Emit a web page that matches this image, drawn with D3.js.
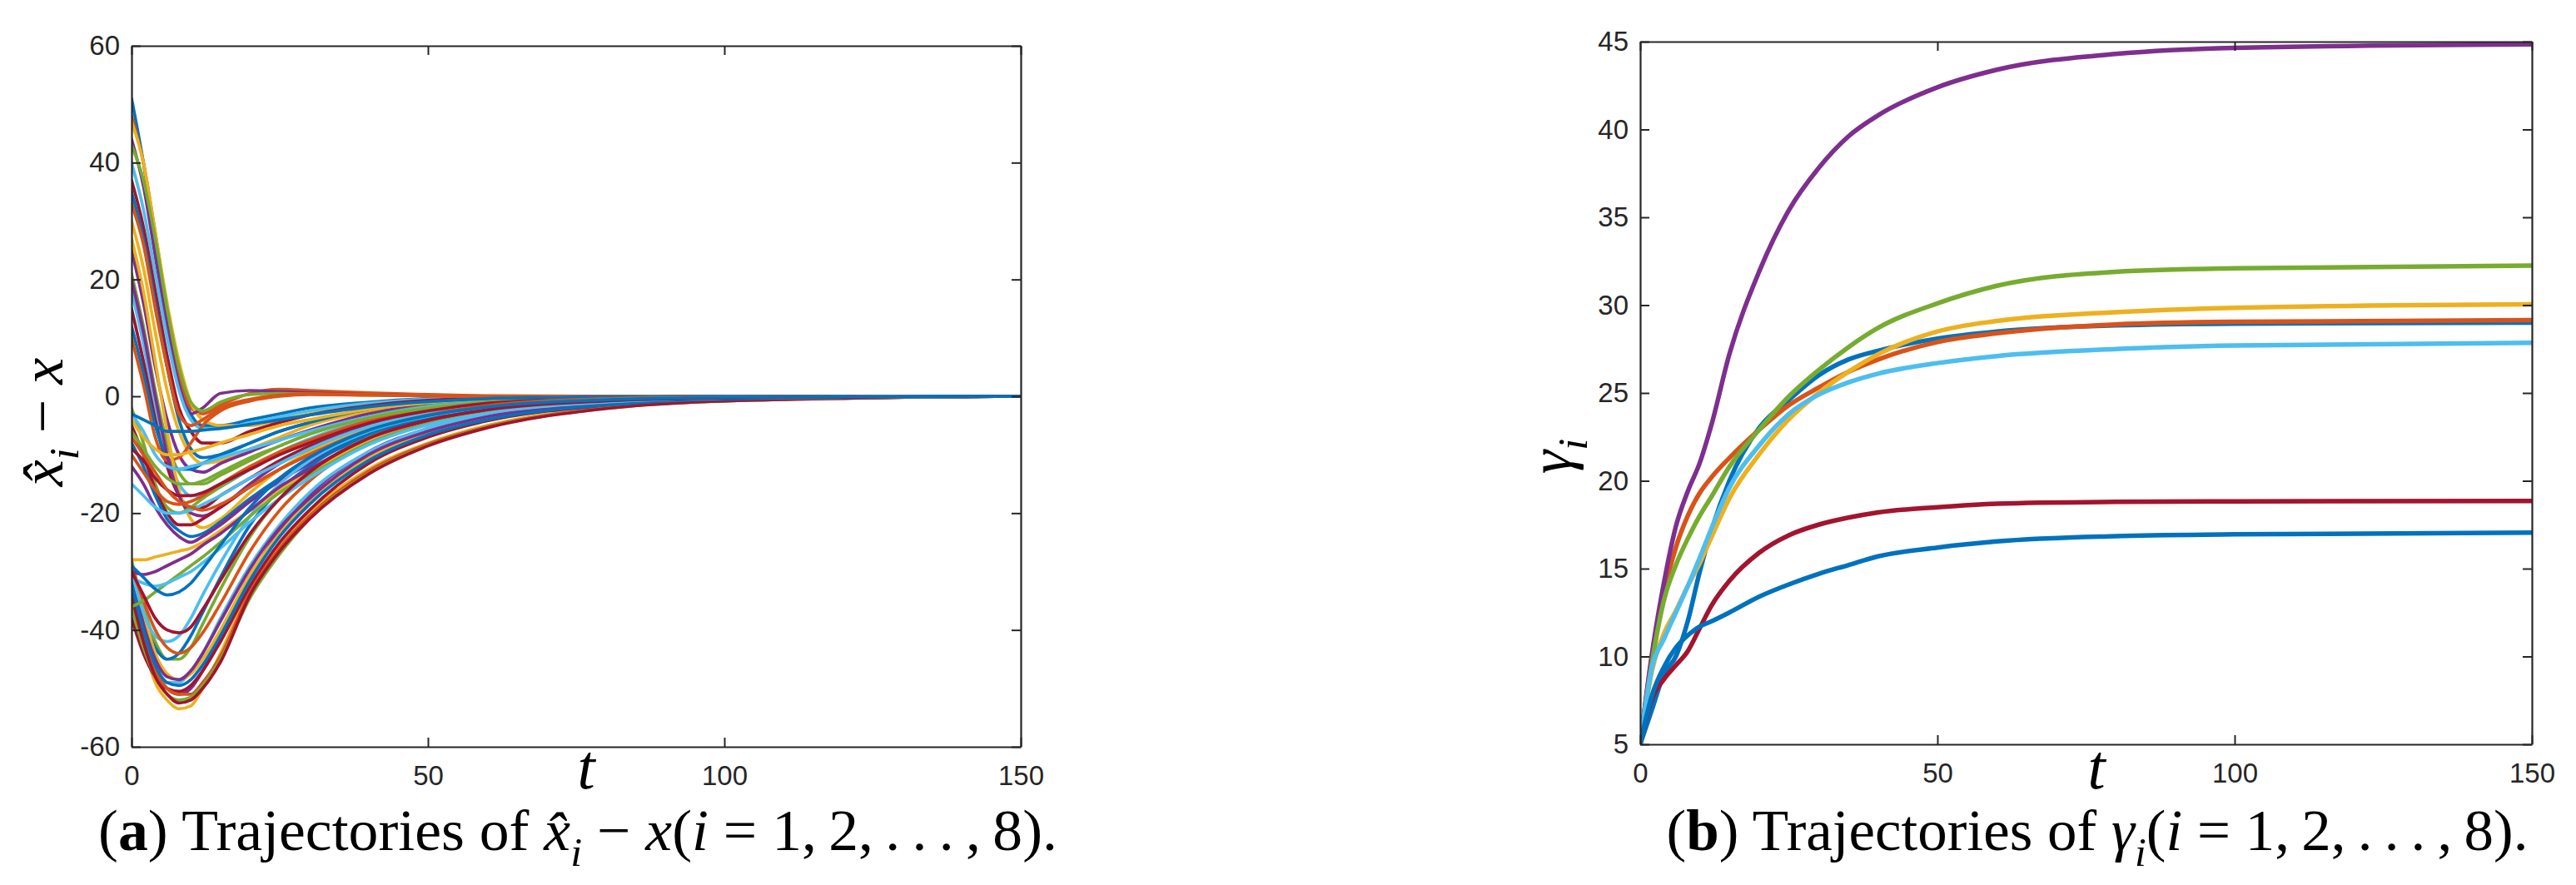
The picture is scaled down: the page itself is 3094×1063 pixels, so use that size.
<!DOCTYPE html>
<html>
<head>
<meta charset="utf-8">
<script src="https://cdn.jsdelivr.net/npm/d3@7"></script>
<style>
  html, body { margin: 0; padding: 0; background: #fff; }
  svg { display: block; }
</style>
</head>
<body>
<script>
// MATLAB default line colour order
var colors = ["#0072BD", "#D95319", "#EDB120", "#7E2F8E", "#77AC30", "#4DBEEE", "#A2142F"];

var tTicks = [0, 50, 100, 150];

// (a) estimation errors  x^_i - x
var errTimes = [0, 2, 4, 6, 8, 10, 12, 15, 20, 25, 30, 40, 50, 60, 80, 100, 150];
var errTicks = [-60, -40, -20, 0, 20, 40, 60];

// start high, fall through zero
var errHigh = [
    [51, 40, 27, 14, 3, -3, -5, -5, -4, -3, -2, -1, -0.4, -0.2, 0, 0, 0],
    [48, 40, 28, 15, 4, -2, -3, -1.5, 0.5, 1.2, 1.0, 0.6, 0.3, 0.1, 0, 0, 0],
    [47, 40, 28, 16, 6, -1, -4, -5, -5, -4, -3, -1.5, -0.6, -0.2, 0, 0, 0],
    [44, 36, 24, 12, 2, -3, -2, 0.5, 1.0, 0.8, 0.6, 0.3, 0.1, 0, 0, 0, 0],
    [43, 37, 27, 15, 5, -1, -2.5, -1, 0.3, 0.5, 0.4, 0.2, 0.1, 0, 0, 0, 0],
    [40, 32, 21, 10, 1, -4, -5.5, -5.5, -4.5, -3.5, -2.5, -1.2, -0.5, -0.2, 0, 0, 0],
    [37, 29, 18, 7, -2, -6, -8, -8, -6, -4.5, -3.2, -1.6, -0.7, -0.3, 0, 0, 0],
    [35, 27, 16, 5, -4, -9, -10.5, -10, -8, -6, -4.5, -2.2, -1, -0.4, 0, 0, 0],
    [33, 26, 15, 5, -3, -5, -4, -2, -0.5, 0.2, 0.4, 0.3, 0.1, 0, 0, 0, 0],
    [30, 22, 11, 1, -6, -10, -11.5, -11, -9, -7, -5, -2.6, -1.2, -0.5, 0, 0, 0],
    [25, 16, 5, -4, -10, -12.5, -13, -11.5, -9.5, -7.5, -5.8, -3, -1.4, -0.6, -0.1, 0, 0],
    [21, 12, 1, -8, -13, -15, -15, -13.5, -11, -8.5, -6.5, -3.5, -1.7, -0.8, -0.1, 0, 0],
    [18, 9, -2, -10, -15, -17, -17, -15.5, -12.5, -9.5, -7.3, -3.9, -2, -0.9, -0.2, 0, 0],
    [15, 6, -4, -12, -17, -19, -19, -17, -14, -11, -8.5, -4.5, -2.3, -1.1, -0.2, 0, 0],
    [12, 4, -5, -10.5, -12.5, -12.5, -11.5, -10, -8, -6, -4.5, -2.2, -1.1, -0.5, 0, 0, 0],
    [10, 2, -7, -11, -10.5, -8, -5, -2.5, -0.8, 0, 0.3, 0.2, 0.1, 0, 0, 0, 0],
    [27, 18, 6, -6, -16, -21, -22.5, -21, -16.5, -12.5, -9.5, -5.3, -2.8, -1.4, -0.3, -0.1, 0],
    [20, 11, 0, -10, -17, -20, -20.5, -19, -15, -11.5, -9, -5, -2.7, -1.3, -0.3, -0.1, 0]
];

// start slightly below zero
var errSmall = [
    [-2, -8, -15, -19, -20, -19, -17.5, -15.5, -12.5, -10, -8, -4.5, -2.4, -1.2, -0.3, -0.1, 0],
    [-3, -6, -10, -12, -12.5, -12, -11.5, -10.5, -9, -7.5, -6, -3.5, -1.8, -0.9, -0.2, 0, 0],
    [-5, -10, -16, -20, -22, -22, -21, -19, -15.5, -12.5, -10, -5.8, -3.2, -1.6, -0.4, -0.1, 0],
    [-8, -12, -17, -21, -23, -24, -23.5, -21.5, -17.5, -14, -11, -6.5, -3.5, -1.8, -0.5, -0.1, 0],
    [-10, -13, -16, -18, -18.5, -18, -17, -15, -12, -9.5, -7.5, -4.2, -2.2, -1.1, -0.3, 0, 0],
    [-4, -7, -9, -10, -10, -9.5, -9, -8, -6.5, -5, -4, -2.2, -1.1, -0.5, -0.1, 0, 0],
    [-12, -15, -19, -22, -24, -25, -24, -22, -18, -14.5, -11.5, -6.8, -3.7, -1.9, -0.5, -0.1, 0],
    [-6, -9, -12, -14, -15, -15, -14.5, -13, -10.5, -8.5, -6.5, -3.7, -2, -1, -0.2, 0, 0],
    [-15, -17, -19, -20, -20, -19.5, -18.5, -17, -14, -11.5, -9, -5.2, -2.8, -1.4, -0.3, -0.1, 0],
    [-9, -11, -14, -16, -17, -17, -16.5, -15, -12.5, -10, -8, -4.6, -2.5, -1.2, -0.3, 0, 0],
    [-3, -4, -5, -6, -6, -6, -5.8, -5.5, -4.8, -4, -3.2, -1.8, -0.9, -0.4, -0.1, 0, 0],
    [-7, -10, -13, -16, -18, -19, -19.5, -18.5, -15.5, -12.5, -10, -5.8, -3.2, -1.6, -0.4, -0.1, 0]
];

// start near -30, deep dip
var errDeep = [
    [-32, -42, -49, -52, -53.5, -53, -50, -44, -33, -25.5, -20, -12.5, -8, -5, -1.9, -0.7, 0],
    [-30, -40, -47, -50, -51, -50, -47, -41, -31, -23, -17, -9.5, -5.5, -3.2, -1.1, -0.4, 0],
    [-28, -36, -42, -45, -45, -43, -39, -33, -24, -17.5, -13, -7, -4, -2.3, -0.8, -0.3, 0],
    [-35, -42, -47, -49, -49, -47, -44, -38, -29, -22, -16.5, -9.5, -5.5, -3.2, -1.1, -0.4, 0],
    [-38, -44, -48, -50, -50.5, -49.5, -47, -42, -32.5, -25, -19.5, -11.5, -7, -4.2, -1.6, -0.6, 0],
    [-30, -38, -43, -45, -44, -41, -37, -31, -22, -16, -12, -6.5, -3.7, -2.1, -0.7, -0.2, 0],
    [-33, -41, -47, -50, -51, -51, -49, -44.5, -33.5, -26, -20.5, -12.8, -8.2, -5.2, -2, -0.8, 0],
    [-29, -37, -44, -47.5, -48.5, -47.5, -45, -40, -30.5, -23.5, -18, -10.5, -6.2, -3.7, -1.3, -0.5, 0],
    [-31, -39, -45, -48, -48.5, -47, -44, -38.5, -29.5, -22.5, -17.5, -10, -6, -3.5, -1.2, -0.4, 0],
    [-36, -43, -48, -51, -52, -51.5, -49.5, -45, -34.5, -27, -21, -13.2, -8.4, -5.3, -2.1, -0.8, 0],
    [-30, -37, -41, -42, -41, -38, -34, -28.5, -20.5, -15, -11, -6, -3.4, -1.9, -0.6, -0.2, 0],
    [-34, -42, -48, -51, -52.5, -52, -50, -45.5, -34, -26.5, -21, -13.3, -8.5, -5.4, -2.1, -0.8, 0],
    [-32, -40, -46, -49, -49.5, -48.5, -46, -41, -31.5, -24, -18.5, -11, -6.6, -4, -1.5, -0.5, 0],
    [-29, -35, -40, -43, -44, -43, -40.5, -35.5, -26.5, -19.5, -14.5, -8, -4.6, -2.6, -0.9, -0.3, 0]
];

// start near -30, no dip
var errFlat = [
    [-28, -28, -27.5, -27, -26.5, -26, -25, -23, -19.5, -16, -13, -7.8, -4.6, -2.7, -0.9, -0.3, 0],
    [-30, -30.5, -30, -29, -28, -27, -25.5, -23.5, -19.5, -15.5, -12.5, -7.2, -4.2, -2.4, -0.8, -0.3, 0],
    [-36, -35, -33.5, -32, -30.5, -29, -27.5, -25, -20.5, -16.5, -13.5, -8, -4.7, -2.8, -0.9, -0.3, 0],
    [-31, -32, -32.5, -32, -31, -30, -28.5, -26, -21.5, -17.5, -14, -8.3, -4.9, -2.9, -1, -0.3, 0],
    [-30, -34, -38, -40, -40.5, -39.5, -36.5, -31.5, -23.5, -17.5, -13, -7.2, -4.1, -2.3, -0.8, -0.3, 0],
    [-29, -31, -33, -34, -33.5, -32, -29.5, -25.5, -19, -14, -10.5, -5.8, -3.3, -1.8, -0.6, -0.2, 0]
];

// (b) adaptive gains gamma_i
var gammaTimes = [0, 2, 4, 6, 8, 10, 12, 15, 20, 25, 30, 35, 40, 50, 60, 80, 100, 150];
var gammaTicks = [5, 10, 15, 20, 25, 30, 35, 40, 45];

var gamma1 = [5, 7.0, 9.0, 10.0, 12.0, 14.8, 17.2, 20.0, 23.0, 24.6, 26.0, 26.9, 27.4, 28.1, 28.5, 28.85, 28.95, 29.0];
var gamma2 = [5, 10.0, 13.6, 16.2, 18.0, 19.3, 20.2, 21.3, 22.9, 24.3, 25.3, 26.2, 26.9, 27.9, 28.4, 28.9, 29.05, 29.15];
var gamma3 = [5, 9.2, 11.3, 12.6, 14.0, 15.3, 16.8, 19.0, 21.5, 23.5, 25.0, 26.2, 27.2, 28.5, 29.1, 29.6, 29.85, 30.05];
var gamma4 = [5, 10.2, 14.2, 17.4, 19.4, 21.0, 23.2, 27.2, 31.9, 35.4, 37.8, 39.6, 40.8, 42.4, 43.4, 44.3, 44.65, 44.85];
var gamma5 = [5, 9.7, 13.2, 15.2, 16.7, 18.0, 19.1, 20.8, 22.9, 24.8, 26.3, 27.6, 28.7, 30.1, 31.1, 31.9, 32.1, 32.25];
var gamma6 = [5, 9.4, 11.0, 12.5, 14.0, 15.6, 17.3, 19.6, 22.0, 23.8, 24.9, 25.6, 26.1, 26.7, 27.1, 27.5, 27.7, 27.85];
var gamma7 = [5, 7.6, 8.7, 9.5, 10.3, 11.6, 12.9, 14.3, 15.9, 16.9, 17.5, 17.9, 18.2, 18.5, 18.7, 18.8, 18.83, 18.85];
var gamma8 = [5, 7.8, 9.4, 10.5, 11.2, 11.7, 12.0, 12.5, 13.4, 14.1, 14.7, 15.2, 15.7, 16.2, 16.55, 16.85, 16.95, 17.05];

var W = 3094, H = 1063;
var axisColor = "#262626";
var sans = "'Liberation Sans', Arial, Helvetica, sans-serif";
var serif = "'Liberation Serif', 'Times New Roman', serif";

var svg = d3.select("body").append("svg")
    .attr("width", W)
    .attr("height", H);

function drawPanel(spec) {
    var x = d3.scaleLinear().domain([0, 150]).range([spec.left, spec.right]);
    var y = d3.scaleLinear().domain(spec.yDomain).range([spec.bottom, spec.top]);
    var g = svg.append("g");

    g.append("clipPath").attr("id", spec.id + "-clip")
        .append("rect")
        .attr("x", spec.left).attr("y", spec.top)
        .attr("width", spec.right - spec.left)
        .attr("height", spec.bottom - spec.top);

    var line = d3.line()
        .x(function (d) { return x(d[0]); })
        .y(function (d) { return y(d[1]); })
        .curve(d3.curveMonotoneX);

    g.append("g")
        .attr("clip-path", "url(#" + spec.id + "-clip)")
        .selectAll("path")
        .data(spec.series)
        .enter()
        .append("path")
        .attr("d", function (s) {
            return line(spec.times.map(function (t, i) { return [t, s[i]]; }));
        })
        .attr("fill", "none")
        .attr("stroke", function (s, i) { return colors[i % colors.length]; })
        .attr("stroke-width", spec.lineWidth)
        .attr("stroke-linejoin", "round")
        .attr("stroke-linecap", "round");

    var fmt = function (d) { return String(d); };
    var none = function () { return ""; };

    var axes = [
        { axis: d3.axisBottom(x).tickValues(tTicks).tickFormat(fmt).tickPadding(23), at: "translate(0," + spec.bottom + ")" },
        { axis: d3.axisTop(x).tickValues(tTicks).tickFormat(none), at: "translate(0," + spec.top + ")" },
        { axis: d3.axisLeft(y).tickValues(spec.yTicks).tickFormat(fmt).tickPadding(14), at: "translate(" + spec.left + ",0)" },
        { axis: d3.axisRight(y).tickValues(spec.yTicks).tickFormat(none), at: "translate(" + spec.right + ",0)" }
    ];

    axes.forEach(function (a) {
        var ag = g.append("g")
            .attr("transform", a.at)
            .call(a.axis.tickSizeInner(-11).tickSizeOuter(0));
        ag.attr("font-family", sans).attr("font-size", 33);
        ag.select(".domain").attr("stroke", axisColor).attr("stroke-width", 2.2);
        ag.selectAll(".tick line").attr("stroke", axisColor).attr("stroke-width", 2);
        ag.selectAll(".tick text").attr("fill", axisColor);
    });

    return { x: x, y: y };
}

// writes a run of plain / bold / italic / subscript pieces into a text node
function writeParts(text, parts, fs) {
    var shift = 0;
    text.selectAll("tspan").remove();
    text.attr("font-size", fs);
    parts.forEach(function (p) {
        var ts = text.append("tspan").text(p[0]);
        var want = p[1] === "sub" ? fs * 0.27 : 0;
        if (want !== shift) {
            ts.attr("dy", want - shift);
            shift = want;
        }
        if (p[1] === "b") ts.attr("font-weight", "bold");
        if (p[1] === "i" || p[1] === "sub") ts.attr("font-style", "italic");
        if (p[1] === "sub") ts.attr("font-size", fs * 0.7);
    });
}

// caption keeps the reference glyph height and is squeezed to the reference width
function caption(cx, baseline, width, parts) {
    var g = svg.append("g")
        .attr("transform", "translate(" + cx + "," + baseline + ")");
    var text = g.append("text")
        .attr("text-anchor", "middle")
        .attr("font-family", serif)
        .attr("fill", "#000");
    writeParts(text, parts, 70);
    var w = text.node().getComputedTextLength();
    text.attr("transform", "scale(" + (width / w) + ",1)");
}

function yLabel(bx, cy, fs, parts) {
    var text = svg.append("text")
        .attr("transform", "translate(" + bx + "," + cy + ") rotate(-90)")
        .attr("text-anchor", "middle")
        .attr("font-family", serif)
        .attr("fill", "#000");
    writeParts(text, parts, fs);
}

function tLabel(cx, baseline) {
    svg.append("text")
        .attr("x", cx)
        .attr("y", baseline)
        .attr("text-anchor", "middle")
        .attr("font-family", serif)
        .attr("font-style", "italic")
        .attr("font-size", 76)
        .attr("fill", "#000")
        .text("t");
}

// panel (a)
var left = { id: "a", left: 158, right: 1226, top: 55, bottom: 897 };
left.yDomain = [-60, 60];
left.yTicks = errTicks;
left.times = errTimes;
left.series = errHigh.concat(errSmall, errDeep, errFlat);
left.lineWidth = 3.7;
drawPanel(left);

// panel (b)
var right = { id: "b", left: 1970, right: 3041, top: 50, bottom: 894 };
right.yDomain = [5, 45];
right.yTicks = gammaTicks;
right.times = gammaTimes;
right.series = [gamma1, gamma2, gamma3, gamma4, gamma5, gamma6, gamma7, gamma8];
right.lineWidth = 5.5;
drawPanel(right);

tLabel(704, 947);
tLabel(2518, 947);

yLabel(75, 507, 72, [["x\u0302", "i"], ["i", "sub"], [" \u2212 ", ""], ["x", "i"]]);
yLabel(1887, 548, 72, [["\u03B3", "i"], ["i", "sub"]]);

var tail = " = 1,\u20092,\u2009.\u2009.\u2009.\u2009,\u20098).";
caption(694, 1021, 1152, [
    ["(", ""], ["a", "b"], [") Trajectories of ", ""],
    ["x\u0302", "i"], ["i", "sub"], [" \u2212 ", ""], ["x", "i"],
    ["(", ""], ["i", "i"], [tail, ""]
]);
caption(2519, 1021, 1035, [
    ["(", ""], ["b", "b"], [") Trajectories of ", ""],
    ["\u03B3", "i"], ["i", "sub"],
    ["(", ""], ["i", "i"], [tail, ""]
]);
</script>
</body>
</html>
